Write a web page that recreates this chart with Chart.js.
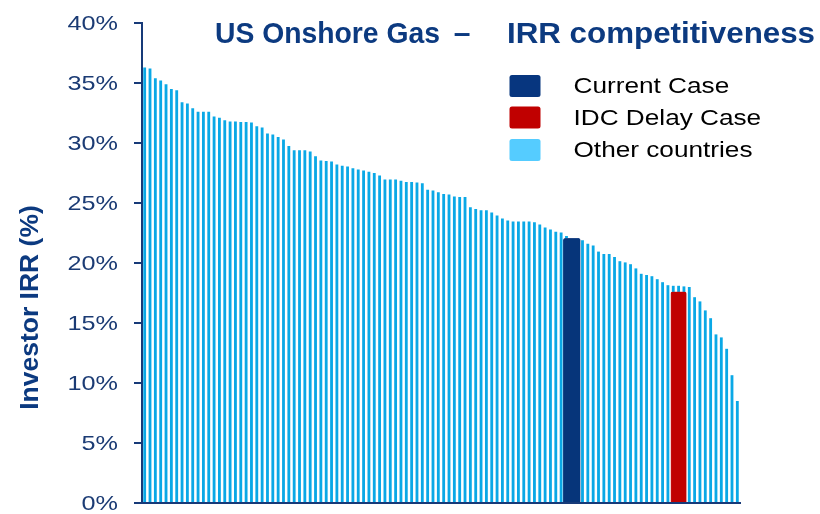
<!DOCTYPE html>
<html>
<head>
<meta charset="utf-8">
<title>US Onshore Gas – IRR competitiveness</title>
<script src="https://cdn.jsdelivr.net/npm/chart.js@4.4.1/dist/chart.umd.min.js"></script>
<style>
  html, body { margin: 0; padding: 0; background: #ffffff; }
  #wrap { width: 820px; height: 514px; }
</style>
</head>
<body>
<div id="wrap"><canvas id="chart" width="820" height="514"></canvas></div>
<script>
// Investor IRR (%) for each onshore gas regime, sorted high to low
const otherCountries = [
  36.3, 36.2, 35.4, 35.2, 34.9, 34.5, 34.4, 33.4, 33.3, 32.9,
  32.6, 32.6, 32.6, 32.2, 32.1, 31.9, 31.8, 31.8, 31.75, 31.75,
  31.7, 31.4, 31.3, 30.8, 30.7, 30.5, 30.3, 29.75, 29.4, 29.4,
  29.4, 29.3, 28.9, 28.55, 28.5, 28.45, 28.2, 28.1, 28.05, 27.9,
  27.8, 27.7, 27.6, 27.5, 27.3, 26.95, 26.95, 26.95, 26.85, 26.75,
  26.75, 26.7, 26.65, 26.1, 26.05, 25.9, 25.75, 25.7, 25.55, 25.5,
  25.5, 24.65, 24.5, 24.4, 24.4, 24.2, 23.95, 23.7, 23.55, 23.45,
  23.45, 23.45, 23.45, 23.4, 23.2, 22.95, 22.8, 22.6, 22.55, 22.25,
  22.0, 21.95, 21.9, 21.6, 21.45, 20.95, 20.75, 20.75, 20.5, 20.15,
  20.05, 19.9, 19.55, 19.1, 19.0, 18.9, 18.65, 18.4, 18.15, 18.1,
  18.1, 18.05, 18.0, 17.15, 16.8, 16.05, 15.4, 14.05, 13.8, 12.85,
  10.65, 8.5
];
// US cases, with the slot each one sits on in the ranking
const currentCaseSlot = [80];
const currentCaseIRR = [22.05];
const idcDelaySlot = [100];
const idcDelayIRR = [17.6];

const categories = otherCountries.map((_, i) => String(i + 1));
const yTickValues = [0, 5, 10, 15, 20, 25, 30, 35, 40];
const yTickLabels = ['0%', '5%', '10%', '15%', '20%', '25%', '30%', '35%', '40%'];

const titleText = 'US Onshore Gas – IRR competitiveness';
const yAxisTitle = 'Investor IRR (%)';

function placeCases(slots, values) {
  const arr = categories.map(() => null);
  slots.forEach((s, k) => { arr[s] = values[k]; });
  return arr;
}

const NAVY = '#0c3a80';
const AXIS = '#173a78';
const FONT = '"Liberation Sans", Arial, Helvetica, sans-serif';

// draws text squeezed or widened horizontally by sx
function wideText(ctx, text, x, y, sx, align) {
  ctx.save();
  ctx.translate(x, y);
  ctx.scale(sx, 1);
  ctx.textAlign = align;
  ctx.fillText(text, 0, 0);
  ctx.restore();
}

// draws text fitted between two x positions
function fitText(ctx, text, x0, x1, y) {
  const w = ctx.measureText(text).width;
  ctx.save();
  ctx.translate(x0, y);
  ctx.scale((x1 - x0) / w, 1);
  ctx.textAlign = 'left';
  ctx.fillText(text, 0, 0);
  ctx.restore();
}

const legendSwatch = {
  'Current Case': '#07367f',
  'IDC Delay Case': '#c00000',
  'Other countries': '#55ccff'
};

const annotations = {
  id: 'annotations',
  afterDraw(chart) {
    const ctx = chart.ctx;
    const y = chart.scales.y;
    ctx.save();

    // value axis labels
    ctx.fillStyle = '#1b3b74';
    ctx.font = '21px ' + FONT;
    ctx.textBaseline = 'middle';
    y.ticks.forEach((t, i) => {
      wideText(ctx, yTickLabels[i], 118, y.getPixelForValue(t.value) + 1, 1.2, 'right');
    });

    // value axis title
    ctx.save();
    ctx.translate(37.7, 307.5);
    ctx.rotate(-Math.PI / 2);
    ctx.fillStyle = NAVY;
    ctx.font = 'bold 26.5px ' + FONT;
    ctx.textAlign = 'center';
    ctx.textBaseline = 'alphabetic';
    ctx.fillText(yAxisTitle, 0, 0);
    ctx.restore();

    // chart title, with wide spacing round the dash
    const parts = titleText.split(' – ');
    ctx.fillStyle = NAVY;
    ctx.font = 'bold 30px ' + FONT;
    ctx.textBaseline = 'alphabetic';
    fitText(ctx, parts[0], 215, 440, 43.3);
    ctx.textAlign = 'center';
    ctx.fillText('–', 462, 43.3);
    fitText(ctx, parts[1], 507, 815, 43.3);

    // legend
    const rows = [86, 117.5, 150];
    const order = ['Current Case', 'IDC Delay Case', 'Other countries'];
    ctx.font = '22px ' + FONT;
    ctx.textBaseline = 'middle';
    order.forEach((label, i) => {
      const ds = chart.data.datasets.find(d => d.label === label);
      if (!ds) return;
      ctx.fillStyle = legendSwatch[label];
      ctx.beginPath();
      ctx.roundRect(509.5, rows[i] - 11, 31, 22, 2.5);
      ctx.fill();
      ctx.fillStyle = '#000000';
      wideText(ctx, ds.label, 573.5, rows[i] + 1, 1.19, 'left');
    });

    ctx.restore();
  }
};

new Chart(document.getElementById('chart'), {
  type: 'bar',
  data: {
    labels: categories,
    datasets: [
      {
        label: 'Current Case',
        data: placeCases(currentCaseSlot, currentCaseIRR),
        backgroundColor: '#06357a',
        borderColor: '#2a4f8e',
        borderWidth: 0.6,
        borderRadius: 2,
        barThickness: 17,
        grouped: false,
        order: 1
      },
      {
        label: 'IDC Delay Case',
        data: placeCases(idcDelaySlot, idcDelayIRR),
        backgroundColor: '#c00000',
        borderColor: '#cc2a2a',
        borderWidth: 0.6,
        borderRadius: 2,
        barThickness: 15.5,
        grouped: false,
        order: 1
      },
      {
        label: 'Other countries',
        data: otherCountries,
        backgroundColor: '#0aa8e6',
        barPercentage: 0.53,
        categoryPercentage: 1,
        grouped: false,
        order: 3
      }
    ]
  },
  options: {
    responsive: false,
    devicePixelRatio: 1,
    animation: false,
    layout: { padding: { top: 23, right: 80, left: 0, bottom: 0 } },
    plugins: {
      legend: { display: false },
      tooltip: { enabled: false },
      title: { display: false }
    },
    scales: {
      x: {
        type: 'category',
        offset: true,
        grid: { display: false },
        ticks: { display: false },
        border: { display: true, color: AXIS, width: 2 },
        afterFit(scale) { scale.height = 11; }
      },
      y: {
        min: 0,
        max: 40,
        afterBuildTicks(scale) { scale.ticks = yTickValues.map(v => ({ value: v })); },
        ticks: { display: false },
        grid: { display: true, drawOnChartArea: false, drawTicks: true, tickLength: 8, color: AXIS, lineWidth: 2 },
        border: { display: true, color: AXIS, width: 2 },
        afterFit(scale) { scale.width = 142; }
      }
    }
  },
  plugins: [annotations]
});
</script>
</body>
</html>
